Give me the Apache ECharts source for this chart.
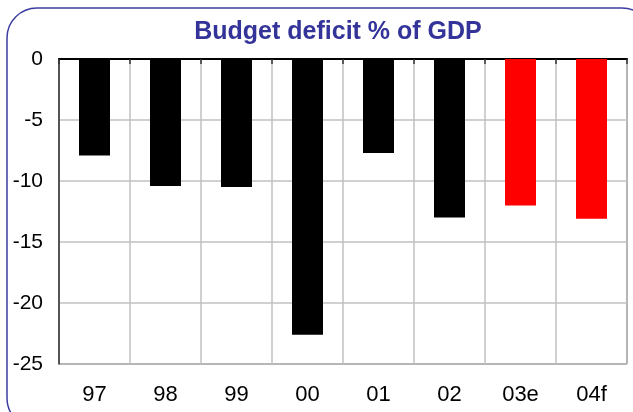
<!DOCTYPE html>
<html>
<head>
<meta charset="utf-8">
<script src="https://cdn.jsdelivr.net/npm/echarts@6/dist/echarts.min.js"></script>
<style>
  html, body { margin: 0; padding: 0; background: #fff; }
  #chart { width: 633px; height: 412px; }
</style>
</head>
<body>
<div id="chart"></div>
<script>
const titleText = 'Budget deficit % of GDP';
const categories = ['97', '98', '99', '00', '01', '02', '03e', '04f'];
const deficitValues = [-7.9, -10.4, -10.5, -22.6, -7.7, -13.0, -12.0, -13.1];
const isEstimate = [false, false, false, false, false, false, true, true];
const yTicks = [0, -5, -10, -15, -20, -25];

const chart = echarts.init(document.getElementById('chart'), null, { renderer: 'canvas' });
const font = '"Liberation Sans", Arial, sans-serif';

chart.setOption({
  animation: false,
  backgroundColor: '#ffffff',
  graphic: [{
    type: 'rect',
    shape: { x: 7, y: 8, width: 645, height: 420, r: 30 },
    style: { fill: 'none', stroke: '#3c3ca0', lineWidth: 1.5 },
    z: 0
  }],
  title: {
    text: titleText,
    left: 333,
    textAlign: 'center',
    top: 15,
    textStyle: { fontFamily: font, fontSize: 25, fontWeight: 'bold', color: '#333399' }
  },
  grid: {
    left: 59, right: 6, top: 59, bottom: 48,
    show: true, borderColor: '#333', borderWidth: 1, backgroundColor: 'transparent'
  },
  xAxis: [{
    type: 'category',
    data: categories,
    position: 'bottom',
    axisLine: { show: true, lineStyle: { color: '#333', width: 1.5 } },
    axisTick: { show: false },
    axisLabel: { fontFamily: font, fontSize: 22, color: '#000', margin: 20 },
    splitLine: { show: true, lineStyle: { color: '#c0c0c0', width: 1.5 } }
  }, {
    type: 'category',
    data: categories,
    position: 'top',
    axisLine: { show: true, lineStyle: { color: '#000', width: 2 } },
    axisTick: { show: true, inside: true, length: 5, lineStyle: { color: '#333', width: 1.5 } },
    axisLabel: { show: false },
    splitLine: { show: false }
  }],
  yAxis: {
    type: 'value',
    min: yTicks[yTicks.length - 1],
    max: yTicks[0],
    interval: 5,
    axisLine: { show: true, lineStyle: { color: '#333', width: 1.5 } },
    axisTick: { show: false },
    axisLabel: { fontFamily: font, fontSize: 21, color: '#000', margin: 16 },
    splitLine: { show: true, lineStyle: { color: '#c0c0c0', width: 1.5 } }
  },
  series: [{
    type: 'bar',
    xAxisIndex: 0,
    data: deficitValues.map((v, i) => ({
      value: v,
      itemStyle: { color: isEstimate[i] ? '#ff0000' : '#000000' }
    })),
    barWidth: 31,
    z: 3
  }]
});
</script>
</body>
</html>
